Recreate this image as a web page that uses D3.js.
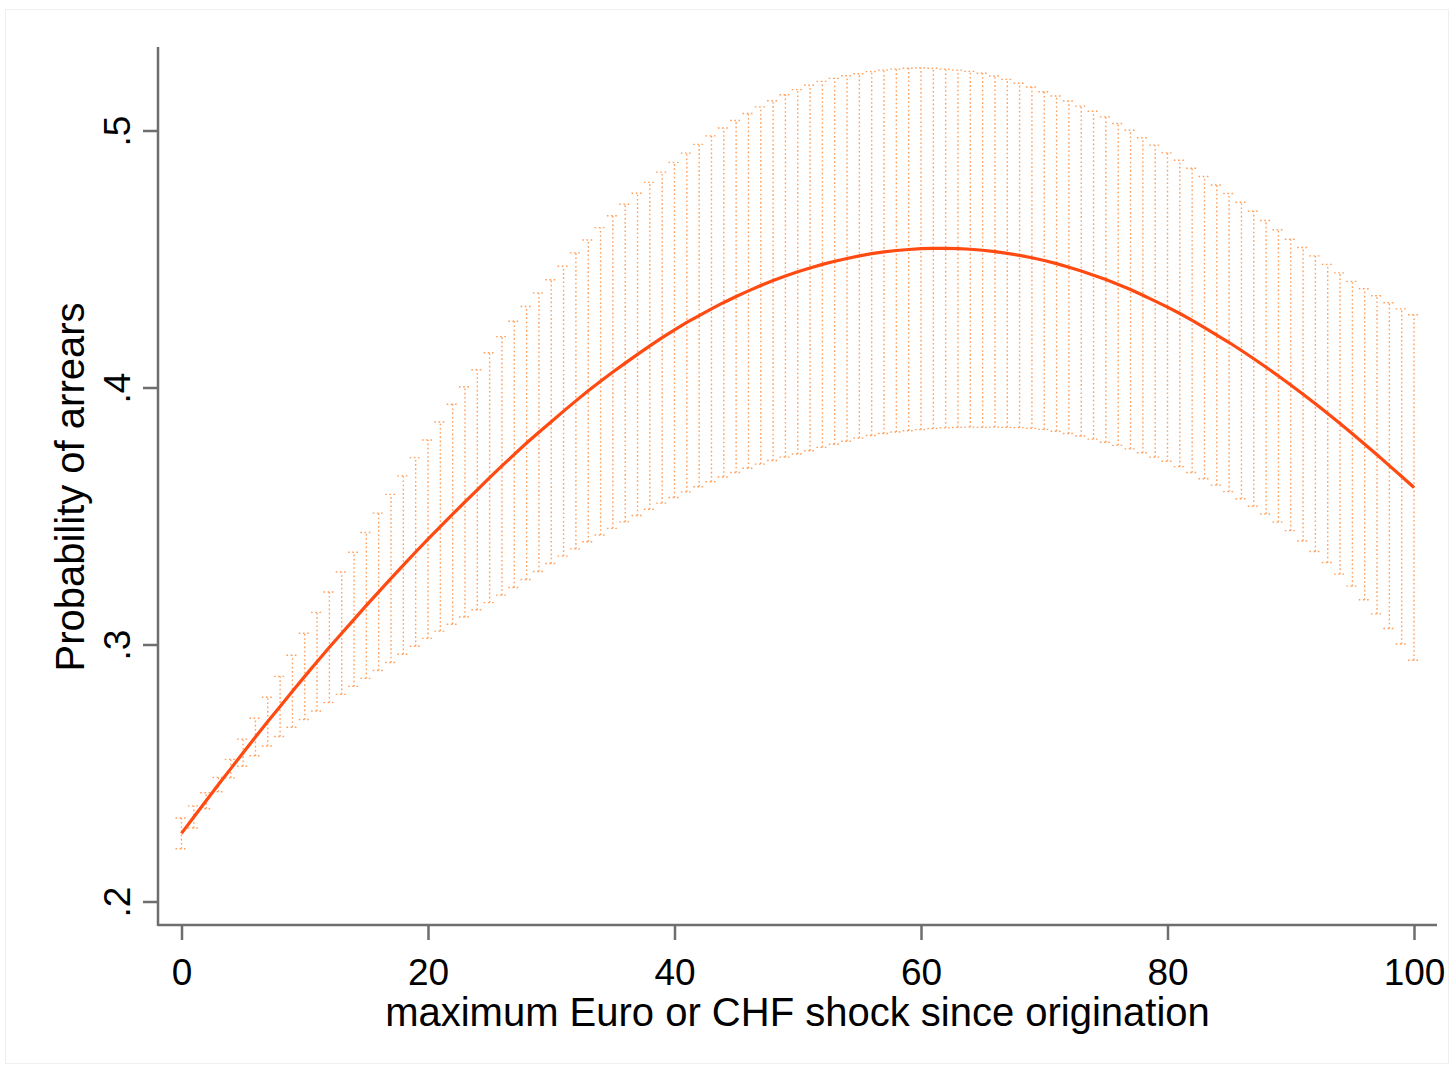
<!DOCTYPE html>
<meta charset="utf-8">
<style>
body { margin: 0; background: #fff; }
text { font-family: "Liberation Sans", Arial, sans-serif; fill: #000; }
.axis line { stroke: #6e6e6e; stroke-width: 2.5px; }
.axis .domain { display: none; }
.ci line { stroke: #ff9f5a; stroke-width: 1.4px; stroke-dasharray: 1.6, 2.6; }
</style>
<svg width="1454" height="1069"></svg>
<script src="https://d3js.org/d3.v7.min.js"></script>
<script>

// maximum Euro or CHF shock since origination
var shock = [0,1,2,3,4,5,6,7,8,9,10,11,12,13,14,15,16,17,18,19,20,
  21,22,23,24,25,26,27,28,29,30,31,32,33,34,35,36,37,38,39,40,
  41,42,43,44,45,46,47,48,49,50,51,52,53,54,55,56,57,58,59,60,
  61,62,63,64,65,66,67,68,69,70,71,72,73,74,75,76,77,78,79,80,
  81,82,83,84,85,86,87,88,89,90,91,92,93,94,95,96,97,98,99,100];

// predicted probability of arrears
var prob = [.2265,.2329,.2392,.2455,.2517,.2579,.2640,.2700,.2759,.2818,.2876,
  .2933,.2989,.3044,.3098,.3152,.3205,.3257,.3309,.3360,.3410,
  .3459,.3507,.3555,.3602,.3649,.3695,.3740,.3784,.3826,.3867,
  .3908,.3948,.3987,.4024,.4060,.4095,.4129,.4162,.4194,.4224,
  .4253,.4280,.4306,.4331,.4354,.4376,.4397,.4416,.4434,.4450,
  .4465,.4479,.4491,.4502,.4512,.4521,.4528,.4533,.4537,.4540,
  .4541,.4541,.4540,.4538,.4534,.4529,.4522,.4514,.4505,.4494,
  .4482,.4468,.4453,.4437,.4420,.4401,.4381,.4359,.4336,.4313,
  .4288,.4261,.4233,.4204,.4175,.4144,.4112,.4079,.4045,.4010,
  .3974,.3937,.3899,.3860,.3820,.3779,.3738,.3696,.3654,.3611];

// 95% CI
var lower = [.2205,.2286,.2361,.2427,.2481,.2526,.2567,.2605,.2642,.2678,.2708,
  .2741,.2774,.2806,.2837,.2868,.2899,.2930,.2962,.2993,.3024,
  .3052,.3079,.3107,.3135,.3163,.3192,.3222,.3253,.3284,.3315,
  .3344,.3372,.3400,.3426,.3452,.3477,.3502,.3526,.3550,.3572,
  .3594,.3614,.3633,.3652,.3669,.3686,.3702,.3716,.3729,.3741,
  .3754,.3767,.3779,.3791,.3803,.3813,.3821,.3827,.3832,.3836,
  .3840,.3843,.3845,.3846,.3845,.3846,.3845,.3844,.3841,.3837,
  .3830,.3821,.3811,.3799,.3787,.3775,.3761,.3746,.3729,.3713,
  .3692,.3669,.3645,.3620,.3595,.3567,.3538,.3508,.3476,.3443,
  .3403,.3362,.3319,.3274,.3227,.3174,.3119,.3062,.3002,.2939];

var upper = [.2325,.2372,.2423,.2483,.2553,.2632,.2713,.2795,.2876,.2958,.3044,
  .3125,.3204,.3282,.3359,.3436,.3511,.3584,.3656,.3727,.3796,
  .3866,.3935,.4003,.4069,.4135,.4198,.4258,.4315,.4368,.4419,
  .4472,.4524,.4574,.4622,.4668,.4713,.4756,.4798,.4838,.4876,
  .4912,.4946,.4979,.5010,.5039,.5066,.5092,.5116,.5139,.5159,
  .5176,.5191,.5203,.5213,.5221,.5229,.5235,.5239,.5242,.5244,
  .5242,.5239,.5235,.5230,.5223,.5212,.5199,.5184,.5169,.5151,
  .5134,.5115,.5095,.5075,.5053,.5027,.5001,.4972,.4943,.4913,
  .4884,.4853,.4821,.4788,.4755,.4721,.4686,.4650,.4614,.4577,
  .4545,.4512,.4479,.4446,.4413,.4384,.4357,.4330,.4306,.4283];

var xTicks = [0, 20, 40, 60, 80, 100];
var yTicks = [.2, .3, .4, .5];
var yTickLabels = [".2", ".3", ".4", ".5"];

var svg = d3.select("svg");

var x = d3.scaleLinear().domain([0, 100]).range([181.5, 1414]);
var y = d3.scaleLinear().domain([.2, .5]).range([901.5, 130.5]);

// faint outer frame
svg.append("rect")
    .attr("x", 5.5).attr("y", 9.5)
    .attr("width", 1443).attr("height", 1054)
    .attr("fill", "none")
    .attr("stroke", "#efefef")
    .attr("stroke-width", 1);

// confidence interval caps
var ci = svg.append("g").attr("class", "ci")
  .selectAll("g")
  .data(shock)
  .enter().append("g");

ci.append("line")
    .attr("x1", function(d) { return x(d); })
    .attr("x2", function(d) { return x(d); })
    .attr("y1", function(d, i) { return y(lower[i]); })
    .attr("y2", function(d, i) { return y(upper[i]); });

ci.append("line")
    .attr("x1", function(d) { return x(d) - 6; })
    .attr("x2", function(d) { return x(d) + 6; })
    .attr("y1", function(d, i) { return y(upper[i]); })
    .attr("y2", function(d, i) { return y(upper[i]); });

ci.append("line")
    .attr("x1", function(d) { return x(d) - 6; })
    .attr("x2", function(d) { return x(d) + 6; })
    .attr("y1", function(d, i) { return y(lower[i]); })
    .attr("y2", function(d, i) { return y(lower[i]); });

// predicted line
var line = d3.line()
    .x(function(d) { return x(d); })
    .y(function(d, i) { return y(prob[i]); });

svg.append("path")
    .datum(shock)
    .attr("d", line)
    .attr("fill", "none")
    .attr("stroke", "#ff4a12")
    .attr("stroke-width", 3.2);

// axes
var xAxis = svg.append("g")
    .attr("class", "axis")
    .attr("transform", "translate(0,925)")
    .call(d3.axisBottom(x).tickValues(xTicks).tickSize(15).tickFormat(d3.format("d")));

xAxis.selectAll("text")
    .attr("y", 60).attr("dy", 0)
    .style("font-size", "37px")
    .style("font-family", "Liberation Sans, Arial, sans-serif");

xAxis.append("line")
    .attr("x1", 158).attr("x2", 1437)
    .attr("y1", 0).attr("y2", 0);

var yAxis = svg.append("g")
    .attr("class", "axis")
    .attr("transform", "translate(158,0)")
    .call(d3.axisLeft(y).tickValues(yTicks).tickSize(15)
      .tickFormat(function(d, i) { return yTickLabels[i]; }));

yAxis.selectAll("text")
    .attr("x", 0).attr("y", 0).attr("dy", 0)
    .attr("text-anchor", "middle")
    .attr("transform", "translate(-28,0) rotate(-90)")
    .style("font-size", "37px")
    .style("font-family", "Liberation Sans, Arial, sans-serif");

yAxis.append("line")
    .attr("x1", 0).attr("x2", 0)
    .attr("y1", 47).attr("y2", 926);

// axis titles
svg.append("text")
    .attr("x", 797.5).attr("y", 1026)
    .attr("text-anchor", "middle")
    .style("font-size", "40px")
    .text("maximum Euro or CHF shock since origination");

svg.append("text")
    .attr("transform", "translate(84,487) rotate(-90)")
    .attr("text-anchor", "middle")
    .style("font-size", "40px")
    .text("Probability of arrears");

</script>
